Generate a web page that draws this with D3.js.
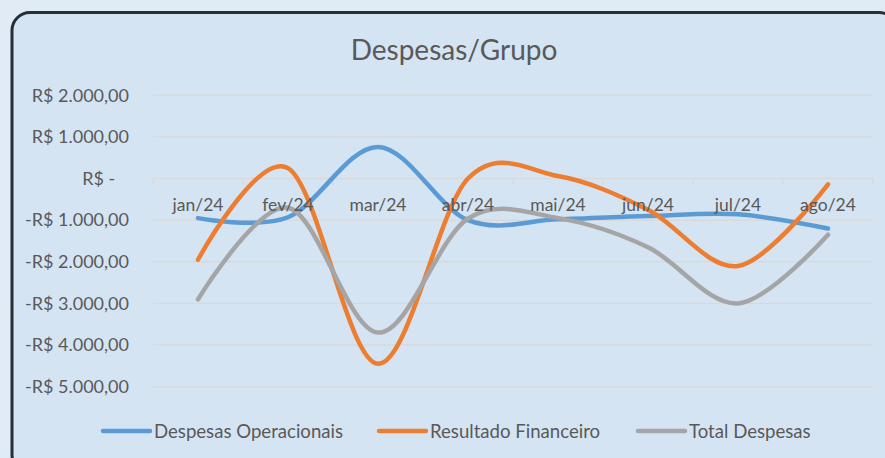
<!DOCTYPE html>
<html><head><meta charset="utf-8">
<script src="https://cdn.jsdelivr.net/npm/d3@7"></script>
<style>html,body{margin:0;padding:0;background:#e0ebf6;}svg{display:block;}</style>
</head><body>
<svg id="chart" width="885" height="458"></svg>
<script>
const months = ["jan/24","fev/24","mar/24","abr/24","mai/24","jun/24","jul/24","ago/24"];
const despesasOperacionais = [-950, -930, 760, -1000, -980, -900, -860, -1200];
const resultadoFinanceiro = [-1950, 250, -4450, 0, 60, -750, -2100, -140];
const totalDespesas = [-2900, -700, -3700, -960, -950, -1650, -3000, -1350];
const yTicks = [2000, 1000, 0, -1000, -2000, -3000, -4000, -5000];
const seriesNames = ["Despesas Operacionais", "Resultado Financeiro", "Total Despesas"];
const seriesColors = ["#5b9bd5", "#ed7d31", "#a5a5a5"];
const title = "Despesas/Grupo";

const series = [despesasOperacionais, resultadoFinanceiro, totalDespesas];
const FONT = "Lato, 'Liberation Sans', sans-serif";
const svg = d3.select("#chart");

// background card
svg.append("rect").attr("x",0).attr("y",0).attr("width",885).attr("height",458).attr("fill","#e0ebf6");
svg.append("rect").attr("x",12).attr("y",12.5).attr("width",885).attr("height",460)
  .attr("rx",18).attr("fill","#d5e4f3").attr("stroke","#262e38").attr("stroke-width",3);

const x = d3.scaleBand().domain(months).range([153, 873]).paddingInner(0).paddingOuter(0);
const y = d3.scaleLinear().domain([-5000, 2000]).range([386.7, 95.3]);

const loc = d3.formatLocale({decimal: ",", thousands: ".", grouping: [3], currency: ["R$ ", ""], minus: "-"});
const fmt = loc.format("$,.2f");
const tickFmt = v => v === 0 ? "R$ -\u00a0\u00a0\u00a0" : fmt(v);

// gridlines
const grid = svg.append("g");
grid.selectAll("line").data(yTicks.filter(v => v !== 0)).join("line")
  .attr("x1", 153).attr("x2", 873)
  .attr("y1", d => y(d)).attr("y2", d => y(d))
  .attr("stroke", "#d9d9d9").attr("stroke-width", 1.5);

// y labels
svg.append("g").selectAll("text").data(yTicks).join("text")
  .attr("x", 129).attr("y", d => y(d)).attr("dy", "0.35em")
  .attr("text-anchor", "end").attr("font-family", FONT).attr("font-size", 18)
  .attr("fill", "#595959").style("white-space","pre").text(tickFmt);

// zero axis with ticks at band boundaries
const ax = svg.append("g");
ax.append("line").attr("x1", 153).attr("x2", 873).attr("y1", y(0)).attr("y2", y(0))
  .attr("stroke", "#d9d9d9").attr("stroke-width", 1.5);
const bounds = months.map(m => x(m)).concat([x(months[months.length-1]) + x.bandwidth()]);
ax.selectAll("line.tk").data(bounds).join("line").attr("class","tk")
  .attr("x1", d => d).attr("x2", d => d).attr("y1", y(0)).attr("y2", y(0) + 6)
  .attr("stroke", "#d9d9d9").attr("stroke-width", 1.5);

// lines
const line = d3.line().x((d, i) => x(months[i]) + x.bandwidth() / 2).y(d => y(d))
  .curve(d3.curveCardinal.tension(0));
svg.append("g").selectAll("path").data(series).join("path")
  .attr("d", d => line(d)).attr("fill", "none")
  .attr("stroke", (d, i) => seriesColors[i]).attr("stroke-width", 4.5)
  .attr("stroke-linecap", "round").attr("stroke-linejoin", "round");

// category labels
svg.append("g").selectAll("text").data(months).join("text")
  .attr("x", d => x(d) + x.bandwidth() / 2).attr("y", y(0) + 32)
  .attr("text-anchor", "middle").attr("font-family", FONT).attr("font-size", 17.5)
  .attr("fill", "#595959").text(d => d);

// title
svg.append("text").attr("x", 454).attr("y", 60).attr("text-anchor", "middle")
  .attr("font-family", FONT).attr("font-size", 28).attr("fill", "#595959").text(title);

// legend
const legendX = [103, 379, 638];
const lg = svg.append("g");
seriesNames.forEach((name, i) => {
  lg.append("line").attr("x1", legendX[i]).attr("x2", legendX[i] + 47)
    .attr("y1", 431).attr("y2", 431).attr("stroke", seriesColors[i])
    .attr("stroke-width", 4.5).attr("stroke-linecap", "round");
  lg.append("text").attr("x", legendX[i] + 51).attr("y", 431).attr("dy", "0.35em")
    .attr("font-family", FONT).attr("font-size", 18.6).attr("fill", "#595959").text(name);
});
</script>
</body></html>
